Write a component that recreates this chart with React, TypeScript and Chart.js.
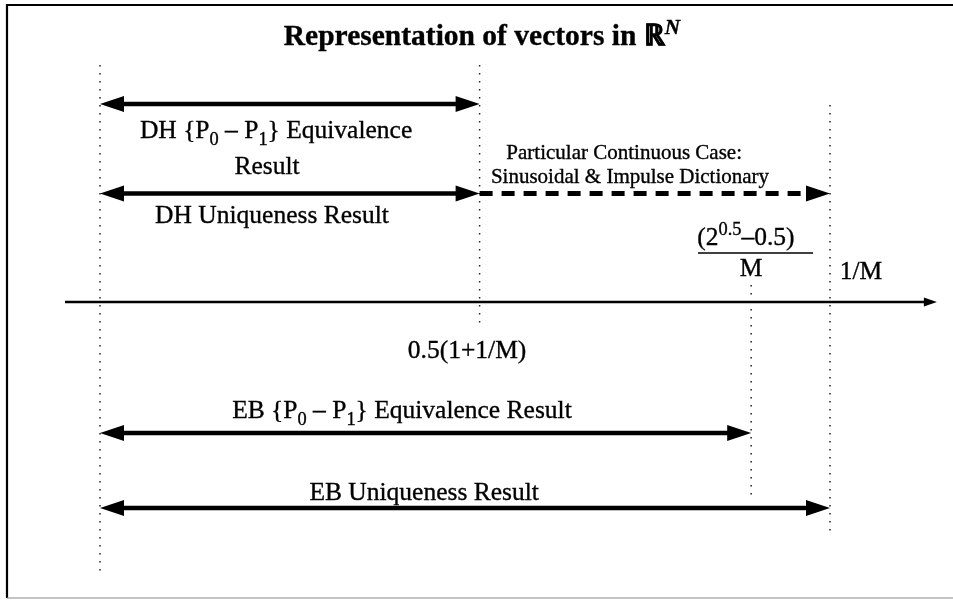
import { useEffect, useRef } from "react";
import { Chart, registerables } from "chart.js";

Chart.register(...registerables);

// ---- Data (diagram units along the sparsity axis; 1/M placed at 25) ----
const thresholdLabels = ["0", "0.5(1+1/M)", "(2^0.5-0.5)/M", "1/M"];
const thresholdValues = [0, 13, 22.3, 25];

// dotted guide extents (vertical units, axis at 0)
const guideTop = [23.7, 23.7, 1.7, 19.7];
const guideBottom = [-27.3, -2.5, -19.6, -23.0];

// result ranges drawn as arrows
const resultNames = [
  "DH {P0 - P1} Equivalence Result",
  "DH Uniqueness Result",
  "Particular Continuous Case: Sinusoidal & Impulse Dictionary",
  "EB {P0 - P1} Equivalence Result",
  "EB Uniqueness Result",
];
const resultFrom = [0, 0, 13, 0, 0];
const resultTo = [13, 13, 25, 22.3, 25];
const resultLevel = [19.8, 10.85, 10.85, -13.1, -20.6];

// ---- Layout / style (kept apart from the data) ----
const X_MIN = -3.4247;
const X_MAX = 29.212;
const Y_MIN = -30.2;
const Y_MAX = 30.2;
const AXIS_FROM = -1.2;
const AXIS_TO = 28.66;
const resultStyle = [
  { both: true, dash: null as number[] | null },
  { both: true, dash: null },
  { both: false, dash: [13, 9] },
  { both: true, dash: null },
  { both: true, dash: null },
];
const SERIF = '"Liberation Serif", "Times New Roman", serif';

type Seg = { t: string; sub?: boolean; sup?: boolean; italic?: boolean };

function drawRich(
  ctx: CanvasRenderingContext2D,
  segs: Seg[],
  cx: number,
  baseline: number,
  size: number,
  bold = false
) {
  const fontFor = (s: Seg) =>
    `${s.italic ? "italic " : ""}${bold ? "bold " : ""}${
      s.sub || s.sup ? size * 0.72 : size
    }px ${SERIF}`;
  let total = 0;
  const widths: number[] = [];
  for (const s of segs) {
    ctx.font = fontFor(s);
    const w = ctx.measureText(s.t).width;
    widths.push(w);
    total += w;
  }
  let x = cx - total / 2;
  ctx.textAlign = "left";
  ctx.textBaseline = "alphabetic";
  ctx.strokeStyle = "#000";
  ctx.lineWidth = 0.35;
  segs.forEach((s, i) => {
    ctx.font = fontFor(s);
    const dy = s.sub ? size * 0.26 : s.sup ? -size * 0.38 : 0;
    ctx.fillText(s.t, x, baseline + dy);
    ctx.strokeText(s.t, x, baseline + dy);
    x += widths[i];
  });
}

function drawArrow(
  ctx: CanvasRenderingContext2D,
  x1: number,
  x2: number,
  y: number,
  lw: number,
  headLen: number,
  headHalf: number,
  startHead: boolean,
  endHead: boolean,
  dash: number[] | null
) {
  ctx.save();
  ctx.strokeStyle = "#000";
  ctx.fillStyle = "#000";
  ctx.lineWidth = lw;
  ctx.lineCap = "butt";
  if (dash) ctx.setLineDash(dash);
  const a = startHead ? x1 + headLen * 0.7 : x1;
  const b = endHead ? x2 - headLen * 0.7 : x2;
  ctx.beginPath();
  ctx.moveTo(a, y);
  ctx.lineTo(b, y);
  ctx.stroke();
  ctx.setLineDash([]);
  const tri = (tip: number, dir: number) => {
    ctx.beginPath();
    ctx.moveTo(tip, y);
    ctx.lineTo(tip + dir * headLen, y - headHalf);
    ctx.lineTo(tip + dir * headLen, y + headHalf);
    ctx.closePath();
    ctx.fill();
  };
  if (endHead) tri(x2, -1);
  if (startHead) tri(x1, 1);
  ctx.restore();
}

const diagramPlugin = {
  id: "diagram",
  afterDatasetsDraw(chart: any) {
    const ctx: CanvasRenderingContext2D = chart.ctx;
    const xs = chart.scales.x;
    const ys = chart.scales.y;
    const X = (v: number) => xs.getPixelForValue(v);
    const Y = (v: number) => ys.getPixelForValue(v);
    ctx.save();

    // frame
    ctx.strokeStyle = "#000";
    ctx.lineWidth = 2.2;
    ctx.beginPath();
    ctx.moveTo(953, 5);
    ctx.lineTo(7, 5);
    ctx.lineTo(7, 598);
    ctx.stroke();
    ctx.strokeStyle = "#8a8a8a";
    ctx.lineWidth = 1.2;
    ctx.beginPath();
    ctx.moveTo(7, 598);
    ctx.lineTo(953, 598);
    ctx.stroke();

    // horizontal axis
    drawArrow(ctx, X(AXIS_FROM), X(AXIS_TO), Y(0), 2.4, 13, 4.6, false, true, null);

    // result arrows
    resultNames.forEach((_, i) => {
      const st = resultStyle[i];
      drawArrow(
        ctx,
        X(resultFrom[i]),
        X(resultTo[i]),
        Y(resultLevel[i]),
        st.dash ? 5 : 4.6,
        24,
        8,
        st.both,
        true,
        st.dash
      );
    });

    ctx.fillStyle = "#000";
    // title
    drawRich(
      ctx,
      [{ t: "Representation of vectors in " }, { t: "ℝ" }, { t: "N", sup: true, italic: true }],
      X(13.08),
      Y(25.7),
      29.5,
      true
    );

    const S = 25.5;
    drawRich(
      ctx,
      [
        { t: "DH {P" },
        { t: "0", sub: true },
        { t: " – P" },
        { t: "1", sub: true },
        { t: "} Equivalence" },
      ],
      X(6.03),
      Y(16.4),
      S
    );
    drawRich(ctx, [{ t: "Result" }], X(5.72), Y(12.8), S);
    drawRich(ctx, [{ t: "DH Uniqueness Result" }], X(5.89), Y(7.9), S);

    drawRich(ctx, [{ t: "Particular Continuous Case:" }], X(17.95), Y(14.3), 21);
    drawRich(ctx, [{ t: "Sinusoidal & Impulse Dictionary" }], X(18.15), Y(11.9), 21);

    // (2^0.5 - 0.5) / M
    drawRich(
      ctx,
      [{ t: "(2" }, { t: "0.5", sup: true }, { t: "–0.5)" }],
      X(22.12),
      Y(5.7),
      S
    );
    ctx.strokeStyle = "#000";
    ctx.lineWidth = 1.6;
    ctx.beginPath();
    ctx.moveTo(X(20.48), Y(4.9));
    ctx.lineTo(X(24.42), Y(4.9));
    ctx.stroke();
    drawRich(ctx, [{ t: "M" }], X(22.3), Y(2.6), S);
    drawRich(ctx, [{ t: thresholdLabels[3] }], X(26.06), Y(2.3), S);
    drawRich(ctx, [{ t: thresholdLabels[1] }], X(12.57), Y(-5.6), S);

    drawRich(
      ctx,
      [
        { t: "EB {P" },
        { t: "0", sub: true },
        { t: " – P" },
        { t: "1", sub: true },
        { t: "} Equivalence Result" },
      ],
      X(10.34),
      Y(-11.6),
      S
    );
    drawRich(ctx, [{ t: "EB Uniqueness Result" }], X(11.1), Y(-19.8), S);

    ctx.restore();
  },
};

export default function App() {
  const ref = useRef<HTMLCanvasElement | null>(null);
  useEffect(() => {
    if (!ref.current) return;
    const datasets = thresholdValues.map((v, i) => ({
      label: thresholdLabels[i],
      data: [
        { x: v, y: guideTop[i] },
        { x: v, y: guideBottom[i] },
      ],
      borderColor: "#222",
      borderWidth: 1.5,
      borderDash: [1.5, 6.5],
      pointRadius: 0,
      showLine: true,
      fill: false,
      tension: 0,
    }));
    const chart = new Chart(ref.current, {
      type: "line",
      data: { datasets },
      options: {
        animation: false,
        responsive: true,
        maintainAspectRatio: false,
        devicePixelRatio: 1,
        layout: { padding: 0 },
        plugins: { legend: { display: false }, tooltip: { enabled: false }, title: { display: false } },
        scales: {
          x: { type: "linear", min: X_MIN, max: X_MAX, display: false },
          y: { type: "linear", min: Y_MIN, max: Y_MAX, display: false },
        },
      },
      plugins: [diagramPlugin],
    });
    return () => chart.destroy();
  }, []);
  return (
    <div style={{ position: "absolute", left: 0, top: 0, width: 953, height: 604, background: "#fff" }}>
      <canvas ref={ref} />
    </div>
  );
}
